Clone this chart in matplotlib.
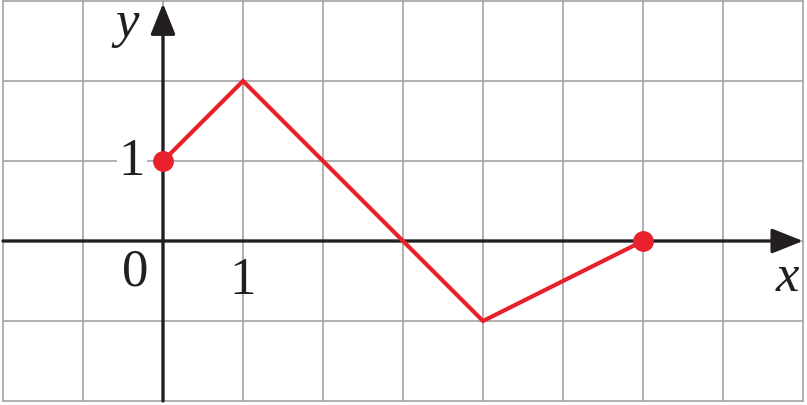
import matplotlib
matplotlib.use('Agg')
import matplotlib.pyplot as plt

# piecewise graph vertices
xs = [0, 1, 3, 4, 6]
ys = [1, 2, 0, -1, 0]
# endpoints marked with dots
dot_x = [0, 6]
dot_y = [1, 0]

x_min, x_max = -2, 8
y_min, y_max = -2, 3

red = '#e8212b'
grid_col = '#a3a3a3'

plt.rcParams['font.family'] = ['Liberation Serif', 'DejaVu Serif']

fig = plt.figure(figsize=(8.07, 4.06), dpi=100)
ax = fig.add_axes([3 / 807, 4 / 406, 800 / 807, 400 / 406])
ax.set_xlim(x_min, x_max)
ax.set_ylim(y_min, y_max)
ax.set_axis_off()

# grid
for gx in range(x_min, x_max + 1):
    ax.plot([gx, gx], [y_min, y_max], color=grid_col, lw=1.2, zorder=1, clip_on=False)
for gy in range(y_min, y_max + 1):
    ax.plot([x_min, x_max], [gy, gy], color=grid_col, lw=1.2, zorder=1, clip_on=False)

# axes with arrows
arrow = dict(arrowstyle='-|>,head_length=0.95,head_width=0.38', color='#231f20', lw=2.4,
             shrinkA=0, shrinkB=0, mutation_scale=20)
ax.annotate('', xy=(x_max, 0), xytext=(x_min, 0), arrowprops=arrow, zorder=3)
ax.annotate('', xy=(0, y_max - 0.03), xytext=(0, y_min), arrowprops=arrow, zorder=3)

# graph
ax.plot(xs, ys, color=red, lw=3.0, zorder=4, solid_joinstyle='miter')
ax.plot(dot_x, dot_y, 'o', color=red, ms=14, zorder=5)

font = dict(fontsize=38, color='#231f20')
ax.text(-0.39, 1, '1', ha='center', va='center', zorder=6,
        bbox=dict(facecolor='white', edgecolor='none', pad=1), **font)
ax.text(-0.35, -0.38, '0', ha='center', va='center', **font)
ax.text(1, -0.49, '1', ha='center', va='center', **font)
ax.text(-0.45, 2.72, 'y', ha='center', va='center', style='italic', **font)
ax.text(7.8, -0.45, 'x', ha='center', va='center', style='italic', **font)

fig.savefig('out.png', dpi=100)
